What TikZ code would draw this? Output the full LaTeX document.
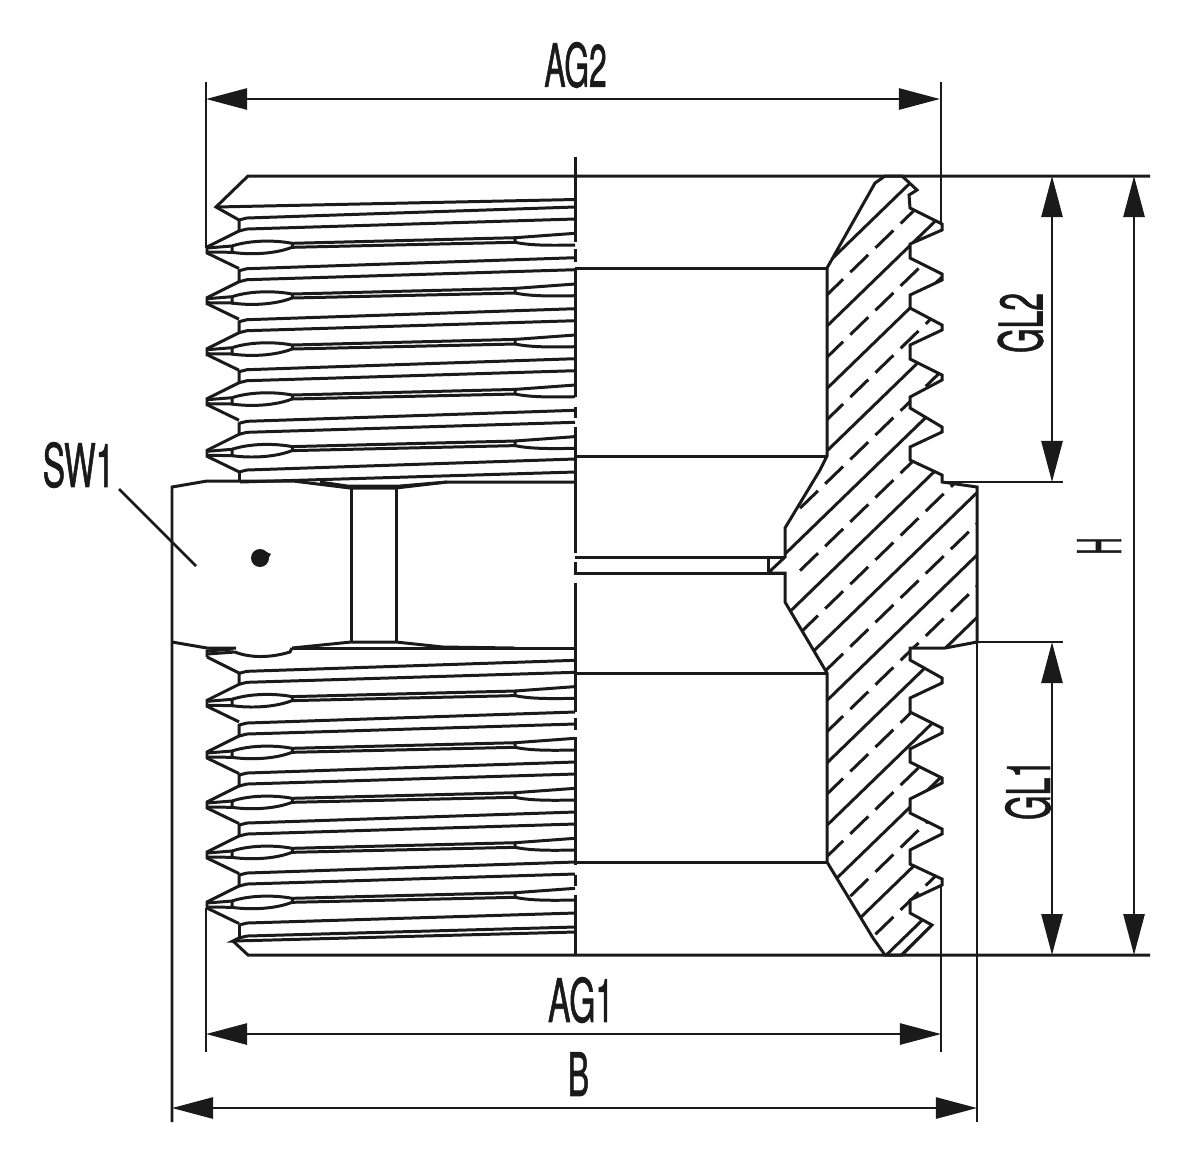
\documentclass[tikz,border=0pt]{standalone}
\usepackage{fontspec}
\setmainfont[RawFeature={embolden=1.5}]{TeX Gyre Heros}
\usetikzlibrary{arrows.meta}
\definecolor{dwgink}{HTML}{1A1A1A}
\newcommand{\narrowtext}[2][.53]{\scalebox{#1}[1]{#2}}
\newcommand{\sectionoutline}{(827,268) -- (875,183) -- (885,176) -- (902,176) -- (917,190) -- (909,195) -- (910,208)
  -- (942,224) -- (942,230) -- (910,244) -- (910,258) -- (942,274) -- (942,280) -- (910,295) -- (910,308)
  -- (942,325) -- (942,330) -- (910,345) -- (910,359) -- (942,375) -- (942,380) -- (910,397) -- (910,408)
  -- (942,427) -- (942,432) -- (910,447) -- (910,460) -- (942,475) -- (942,482) -- (977,487) -- (977,642)
  -- (945,648) -- (910,648) -- (910,660) -- (942,678) -- (942,683) -- (910,698) -- (910,712)
  -- (942,728) -- (942,733) -- (910,749) -- (910,762) -- (942,778) -- (942,783) -- (910,799) -- (910,813)
  -- (942,829) -- (942,834) -- (910,850) -- (910,864) -- (942,879) -- (942,885) -- (910,900) -- (910,913)
  -- (932,925) -- (902,955) -- (885,955) -- (873,938) -- (827,862) -- (827,673) -- (785,602) -- (785,573)
  -- (768,573) -- (785,557) -- (785,528) -- (820,470) -- (827,456) -- cycle}
\tikzset{
  part/.style={color=dwgink, line width=0.85pt, line join=miter},
  dimline/.style={color=dwgink, line width=0.75pt, {Triangle[length=.41cm,width=.21cm]}-{Triangle[length=.41cm,width=.21cm]}},
  extline/.style={color=dwgink, line width=0.75pt},
  dimlabel/.style={color=dwgink, font=\fontsize{17}{18}\selectfont, inner sep=0pt}
}

\begin{document}
\begin{tikzpicture}[x=0.01cm, y=-0.01cm]
    \useasboundingbox (0,0) rectangle (1195,1166);

    % threads on the left half
    \foreach \T in {250,300.7,351.7,401.7,453.3,703.3,755,805,855,905} {
        \draw[part] (239,\T-31) -- (239,\T-19) -- (207,\T-3) -- (207,\T+3) -- (239,\T+18.5);
        \draw[part] (239,\T-30) -- (247,\T-32) -- (575,\T-43);
        \draw[part] (239,\T-19) -- (247,\T-21) -- (575,\T-31);
        \draw[part] (207,\T-2) -- (232,\T-4) -- (232,\T+2.3) -- (207,\T+2);
        \draw[part] (232,\T-4) .. controls (250,\T-10) and (275,\T-10) .. (292,\T-6.7);
        \draw[part] (232,\T+2.3) .. controls (250,\T+5) and (275,\T+4) .. (292,\T-2.7);
        \draw[part] (292,\T-6.7) -- (292,\T-2.7);
        \draw[part] (292,\T-6.7) -- (515,\T-12.3) -- (515,\T-7.7);
        \draw[part] (292,\T-2.7) -- (515,\T-7.7);
        \draw[part] (515,\T-12.3) -- (575,\T-16.7);
        \draw[part] (515,\T-7.7) .. controls (530,\T-4.5) and (550,\T-4.5) .. (575,\T-5);
    }

    % thread ends
    \draw[part] (1150,176) -- (248,176) -- (216,207) -- (239,220);
    \draw[part] (216,207) -- (575,199.5);
    \draw[part] (239,472) -- (247,470) -- (575,459);
    \draw[part] (239,472) -- (239,482);
    \draw[part] (240,482) -- (575,472);
    \draw[part] (207,657) -- (239,673);
    \draw[part] (239,925) -- (239,938);
    \draw[part] (239,925) -- (247,923) -- (575,913);
    \draw[part] (239,938) -- (247,936) -- (575,927);
    \draw[part] (239,938) -- (233,941) -- (575,932);
    \draw[part] (233,941) -- (248,955) -- (1150,955);

    % hexagon
    \draw[part] (172,1122) -- (172,487) -- (207,481) -- (293,481) -- (350,488) -- (396,488) -- (447,482) -- (575,482);
    \draw[part] (320,482) -- (347,486) -- (400,486) -- (447,482);
    \draw[part] (351,488) -- (351,642);
    \draw[part] (396,488) -- (396,642);
    \draw[part] (172,642) -- (207,648) -- (236,648);
    \draw[part] (207,657) -- (207,651) -- (233,649);
    \draw[part] (207,654) -- (235,652) .. controls (250,658) and (270,658) .. (290,652) -- (292,648);
    \draw[part] (292,648) -- (351,642) -- (396,642) -- (443,647) -- (515,648);
    \draw[part] (292,648) -- (575,648);
    \fill[dwgink] (260,558) circle (9);
    \fill[dwgink] (262,550) -- (271,554) -- (266,562) -- cycle;

    % centre line with its gaps
    \foreach \a/\b in {157/242,249/262,268/397,407/418,427/553,562/575,583/712,718/730,737/865,875/886,895/955}
        \draw[part] (575,\a) -- (575,\b);

    % bore
    \draw[part] (575,268) -- (827,268);
    \draw[part] (575,456) -- (827,456);
    \draw[part] (575,557) -- (785,557);
    \draw[part] (575,573) -- (785,573);
    \draw[part] (768,557) -- (768,573);
    \draw[part] (575,673) -- (827,673);
    \draw[part] (575,862) -- (827,862);

    % section with hatching
    \begin{scope}
        \clip \sectionoutline;
        \foreach \y in {263.6,326,388.4,450.8,513.2,575.6,638,700.4,762.8,825.2,887.6,950,1012.4,1027}
            \draw[part] (760,\y+65) -- (990,\y-158);
        \foreach \y in {294.8,357.2,419.6,482,544.4,606.8,669.2,731.6,794,856.4,918.8,981.2}
            \draw[part, dash pattern=on 0.25cm off 0.1cm] (800,\y+26.2) -- (990,\y-158);
    \end{scope}
    \draw[part] \sectionoutline;

    % dimensions
    \coordinate (agtwoleft) at (206,99);
    \coordinate (agtworight) at (940,99);
    \coordinate (agoneleft) at (206,1034);
    \coordinate (agoneright) at (941,1034);
    \coordinate (bleft) at (172,1108);
    \coordinate (bright) at (977,1108);
    \coordinate (gltwotop) at (1052,176);
    \coordinate (gltwobot) at (1052,482);
    \coordinate (glonetop) at (1052,642);
    \coordinate (glonebot) at (1052,955);
    \coordinate (htop) at (1134,176);
    \coordinate (hbot) at (1134,955);
    \coordinate (swstart) at (119,489);
    \coordinate (swend) at (196,566);

    \draw[extline] (206,82) -- (206,248);
    \draw[extline] (941,82) -- (941,224);
    \draw[extline] (206,908) -- (206,1052);
    \draw[extline] (941,885) -- (941,1052);
    \draw[extline] (977,642) -- (977,1122);
    \draw[extline] (942,482) -- (1063,482);
    \draw[extline] (977,642) -- (1063,642);

    \draw[dimline] (agtwoleft) -- (agtworight);
    \draw[dimline] (agoneleft) -- (agoneright);
    \draw[dimline] (bleft) -- (bright);
    \draw[dimline] (gltwotop) -- (gltwobot);
    \draw[dimline] (glonetop) -- (glonebot);
    \draw[dimline] (htop) -- (hbot);
    \draw[extline] (swstart) -- (swend);

    \node[dimlabel] (agtwolabel) at (575.5,65) {\narrowtext{AG2}};
    \node[dimlabel] (agonelabel) at (581,1000) {\narrowtext[.56]{AG1}};
    \node[dimlabel] (blabel) at (578.5,1074) {\narrowtext{B}};
    \node[dimlabel] (swlabel) at (78.5,465) {\narrowtext[.56]{SW1}};
    \node[dimlabel, rotate=90] (gltwolabel) at (1020.5,323) {\narrowtext[.53]{GL2}};
    \node[dimlabel, rotate=90] (glonelabel) at (1028,790) {\narrowtext[.53]{GL1}};
    \node[dimlabel, rotate=90] (hlabel) at (1099,546) {\narrowtext[.4]{H}};
\end{tikzpicture}
\end{document}
